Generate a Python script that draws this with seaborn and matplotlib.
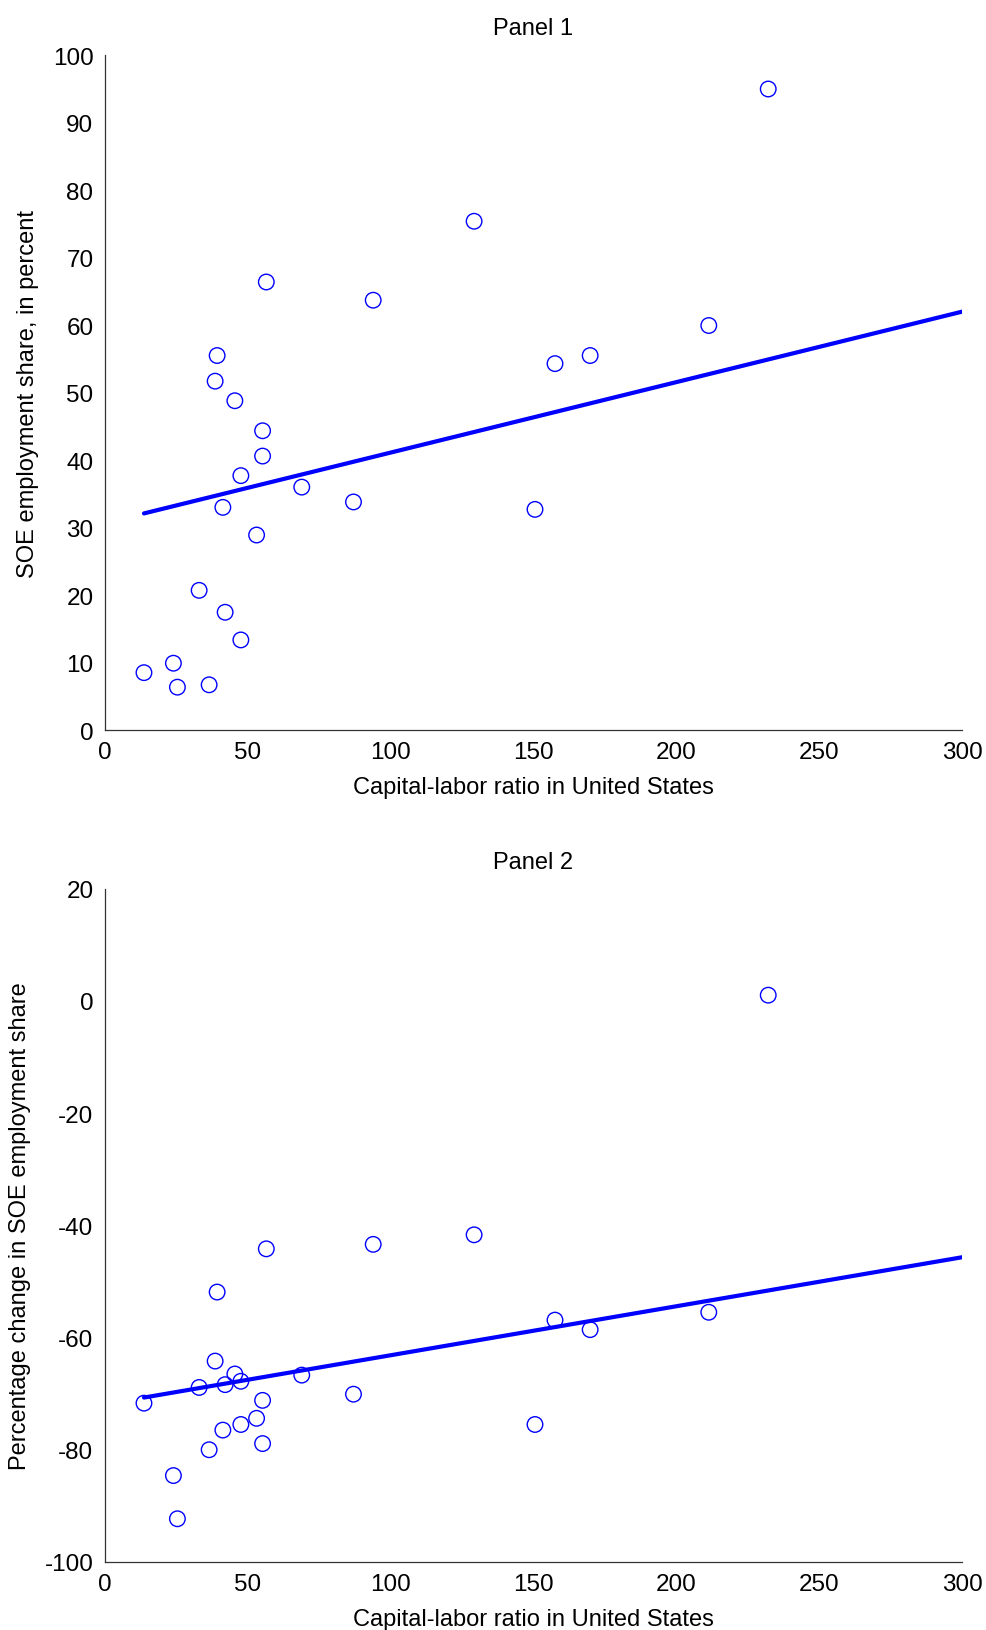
import numpy as np
import pandas as pd
import seaborn as sns
import matplotlib
matplotlib.use('Agg')
import matplotlib.pyplot as plt

# capital-labor ratio in US (same for both panels)
cap_labor = [13.8, 24.1, 25.5, 36.6, 33.1, 42.2, 47.7, 41.4, 53.2, 47.7, 55.3, 55.3, 45.6,
             38.7, 39.4, 56.6, 69.0, 87.1, 94.0, 129.3, 150.6, 157.6, 169.9, 211.4, 232.2]
# panel 1: SOE employment share (percent)
soe_share = [8.5, 9.9, 6.35, 6.7, 20.7, 17.45, 13.35, 33.0, 28.9, 37.7, 40.6, 44.35, 48.8,
             51.7, 55.5, 66.4, 36.0, 33.8, 63.7, 75.4, 32.7, 54.3, 55.5, 59.95, 95.0]
# panel 2: percentage change in SOE employment share
soe_change = [-71.7, -84.6, -92.3, -80.0, -68.9, -68.4, -75.5, -76.5, -74.4, -67.8, -71.2,
              -78.9, -66.5, -64.2, -51.9, -44.2, -66.7, -70.1, -43.4, -41.7, -75.5, -56.9,
              -58.6, -55.5, 1.0]

# fitted lines (endpoints)
fit_x = [13.8, 300]
fit_y1 = [32.1, 62.0]
fit_y2 = [-70.7, -45.7]

x_ticks = [0, 50, 100, 150, 200, 250, 300]
y_ticks1 = [0, 10, 20, 30, 40, 50, 60, 70, 80, 90, 100]
y_ticks2 = [-100, -80, -60, -40, -20, 0, 20]

sns.set_style('white')
plt.rcParams['font.family'] = ['Liberation Sans', 'DejaVu Sans']
plt.rcParams['axes.unicode_minus'] = False
plt.rcParams['text.color'] = 'black'
plt.rcParams['axes.labelcolor'] = 'black'
plt.rcParams['xtick.color'] = 'black'
plt.rcParams['ytick.color'] = 'black'

df = pd.DataFrame({'x': cap_labor, 'y1': soe_share, 'y2': soe_change})

fig = plt.figure(figsize=(9.87, 16.31), dpi=100)
ax1 = fig.add_axes([0.1059, 0.5518, 0.8688, 0.4137])
ax2 = fig.add_axes([0.1059, 0.0417, 0.8688, 0.4129])

def panel(ax, ycol, fit_y, title, ylabel, yticks):
    sns.lineplot(ax=ax, x=fit_x, y=fit_y, color='#0000ff', linewidth=3.0)
    sns.scatterplot(ax=ax, data=df, x='x', y=ycol, marker='o', s=125,
                    facecolor='none', edgecolor='#0000ff', linewidth=1.0, zorder=3)
    ax.set_xlim(0, 300)
    ax.set_ylim(yticks[0], yticks[-1])
    ax.set_xticks(x_ticks)
    ax.set_yticks(yticks)
    ax.set_title(title, fontsize=17, pad=15)
    ax.set_xlabel('Capital-labor ratio in United States', fontsize=17, labelpad=9)
    ax.set_ylabel(ylabel, fontsize=17, labelpad=10)
    ax.tick_params(direction='in', length=6, width=0.9, color='#333333',
                   labelcolor='black', labelsize=17.5, pad=8)
    for s in ['top', 'right']:
        ax.spines[s].set_visible(False)
    for s in ['left', 'bottom']:
        ax.spines[s].set_color('#333333')
        ax.spines[s].set_linewidth(0.9)

panel(ax1, 'y1', fit_y1, 'Panel 1', 'SOE employment share, in percent', y_ticks1)
panel(ax2, 'y2', fit_y2, 'Panel 2', 'Percentage change in SOE employment share', y_ticks2)

plt.savefig('out.png', dpi=100)
